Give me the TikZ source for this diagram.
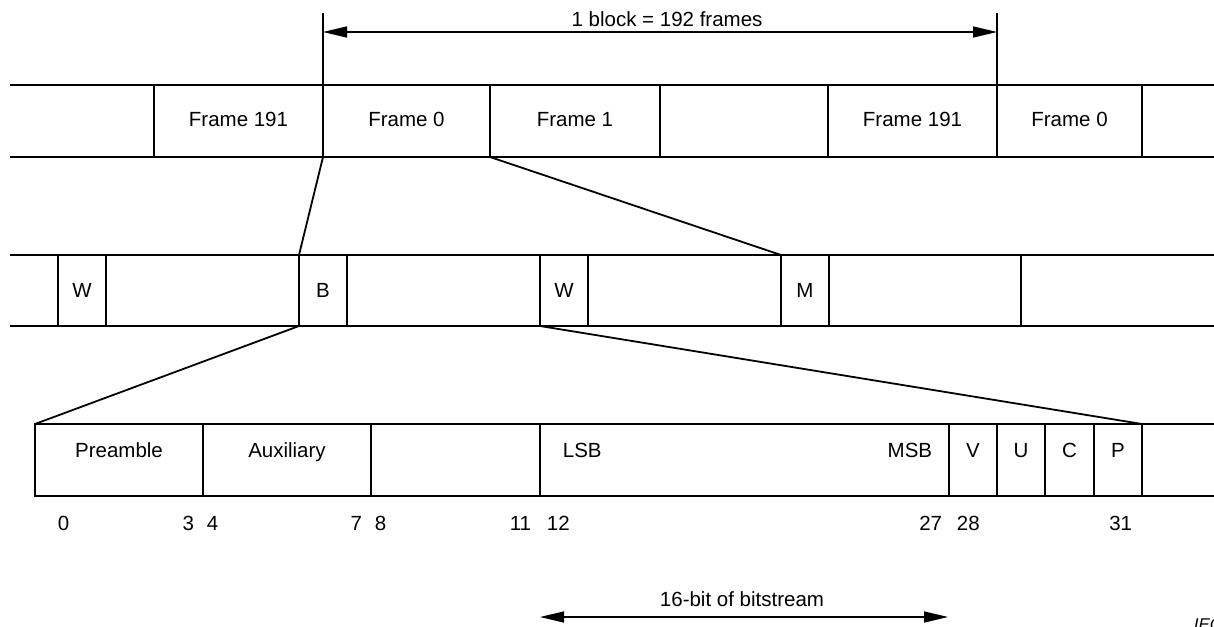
\documentclass[tikz,border=0pt]{standalone}
\usepackage{fontspec}
\setmainfont{Liberation Sans}
\usetikzlibrary{arrows.meta}

\begin{document}
\begin{tikzpicture}[x=1pt,y=-1pt,
  line width=1.8pt,
  cellbox/.style={draw, line width=1.8pt, inner sep=0pt, outer sep=0pt,
    minimum height=72pt, anchor=north west},
  lbl/.style={inner sep=0pt, anchor=base, font=\fontsize{20.5}{24}\selectfont},
  dimarrow/.style={line width=1.4pt, {Triangle[length=24pt,width=11pt]}-{Triangle[length=24pt,width=11pt]}}
]
\useasboundingbox (0,0) rectangle (1214,626);

% ---------- row 1: frames of a block ----------
\draw (10,85) -- (1214,85);
\draw (10,157) -- (1214,157);
\node[cellbox, minimum width=169pt] (f191a) at (154,85) {};
\node[cellbox, minimum width=167pt] (f0a)   at (323,85) {};
\node[cellbox, minimum width=170pt] (f1)    at (490,85) {};
\node[cellbox, minimum width=168pt] (fx)    at (660,85) {};
\node[cellbox, minimum width=169pt] (f191b) at (828,85) {};
\node[cellbox, minimum width=145pt] (f0b)   at (997,85) {};
\node[lbl] (t-f191a) at ([yshift=-41pt]f191a.north) {Frame 191};
\node[lbl] (t-f0a)   at ([yshift=-41pt]f0a.north)   {Frame 0};
\node[lbl] (t-f1)    at ([yshift=-41pt]f1.north)    {Frame 1};
\node[lbl] (t-f191b) at ([yshift=-41pt]f191b.north) {Frame 191};
\node[lbl] (t-f0b)   at ([yshift=-41pt]f0b.north)   {Frame 0};

% block length dimension
\coordinate (gl) at (323,13);
\coordinate (gr) at (997,13);
\draw (gl) -- (f0a.north west);
\draw (gr) -- (f0b.north west);
\coordinate (al) at (323,32);
\coordinate (ar) at (997,32);
\draw[dimarrow] (al) -- (ar);
\node[lbl] (t-block) at (667,26.5) {1 block = 192 frames};

% ---------- row 2: subframes ----------
\draw (10,255) -- (1214,255);
\draw (10,326) -- (1214,326);
\node[cellbox, minimum width=48pt, minimum height=71pt]  (w1) at (58,255)  {};
\node[cellbox, minimum width=193pt, minimum height=71pt] (s1) at (106,255) {};
\node[cellbox, minimum width=48pt, minimum height=71pt]  (b)  at (299,255) {};
\node[cellbox, minimum width=193pt, minimum height=71pt] (s2) at (347,255) {};
\node[cellbox, minimum width=48pt, minimum height=71pt]  (w2) at (540,255) {};
\node[cellbox, minimum width=193pt, minimum height=71pt] (s3) at (588,255) {};
\node[cellbox, minimum width=48pt, minimum height=71pt]  (m)  at (781,255) {};
\node[cellbox, minimum width=192pt, minimum height=71pt] (s4) at (829,255) {};
\node[lbl] (t-w1) at ([yshift=-42pt]w1.north) {W};
\node[lbl] (t-b)  at ([yshift=-42pt]b.north)  {B};
\node[lbl] (t-w2) at ([yshift=-42pt]w2.north) {W};
\node[lbl] (t-m)  at ([yshift=-42pt]m.north)  {M};

% ---------- row 3: bits of a subframe ----------
\draw (35,424) -- (1214,424);
\draw (35,496) -- (1214,496);
\node[cellbox, minimum width=168pt] (pre)  at (35,424)   {};
\node[cellbox, minimum width=168pt] (aux)  at (203,424)  {};
\node[cellbox, minimum width=169pt] (ext)  at (371,424)  {};
\node[cellbox, minimum width=409pt] (data) at (540,424)  {};
\node[cellbox, minimum width=48pt]  (v)    at (949,424)  {};
\node[cellbox, minimum width=48pt]  (u)    at (997,424)  {};
\node[cellbox, minimum width=49pt]  (c)    at (1045,424) {};
\node[cellbox, minimum width=48pt]  (p)    at (1094,424) {};
\node[lbl] (t-pre) at ([yshift=-33pt]pre.north) {Preamble};
\node[lbl] (t-aux) at ([yshift=-33pt]aux.north) {Auxiliary};
\node[lbl, anchor=base west] (t-lsb) at ([xshift=22pt,yshift=-33pt]data.north west) {LSB};
\node[lbl, anchor=base east] (t-msb) at ([xshift=-16pt,yshift=-33pt]data.north east) {MSB};
\node[lbl] (t-v) at ([yshift=-33pt]v.north) {V};
\node[lbl] (t-u) at ([yshift=-33pt]u.north) {U};
\node[lbl] (t-c) at ([yshift=-33pt]c.north) {C};
\node[lbl] (t-p) at ([yshift=-33pt]p.north) {P};

% bit numbers
\node[lbl, anchor=base west] (n0)  at ([xshift=22pt,yshift=-34pt]pre.south west)  {0};
\node[lbl, anchor=base east] (n3)  at ([xshift=-8pt,yshift=-34pt]pre.south east)  {3};
\node[lbl, anchor=base west] (n4)  at ([xshift=3pt,yshift=-34pt]aux.south west)   {4};
\node[lbl, anchor=base east] (n7)  at ([xshift=-8pt,yshift=-34pt]aux.south east)  {7};
\node[lbl, anchor=base west] (n8)  at ([xshift=3pt,yshift=-34pt]ext.south west)   {8};
\node[lbl, anchor=base east] (n11) at ([xshift=-8pt,yshift=-34pt]ext.south east)  {11};
\node[lbl, anchor=base west] (n12) at ([xshift=6pt,yshift=-34pt]data.south west)  {12};
\node[lbl, anchor=base east] (n27) at ([xshift=-6pt,yshift=-34pt]data.south east) {27};
\node[lbl, anchor=base west] (n28) at ([xshift=7pt,yshift=-34pt]v.south west)     {28};
\node[lbl, anchor=base east] (n31) at ([xshift=-9pt,yshift=-34pt]p.south east)    {31};

% audio sample width
\coordinate (bl) at (540,617);
\coordinate (br) at (948,617);
\draw[dimarrow] (bl) -- (br);
\node[lbl] (t-16) at (742,606) {16-bit of bitstream};

% ---------- zoom connectors ----------
\draw (f0a.south west) -- (b.north west);
\draw (f0a.south east) -- (m.north west);
\draw (b.south west) -- (pre.north west);
\draw (w2.south west) -- (p.north east);

% figure reference, running off the lower right edge
\node[inner sep=0pt, anchor=north west, font=\fontsize{17}{20}\selectfont\itshape] (iec) at (1193,618) {IEC};
\end{tikzpicture}
\end{document}
